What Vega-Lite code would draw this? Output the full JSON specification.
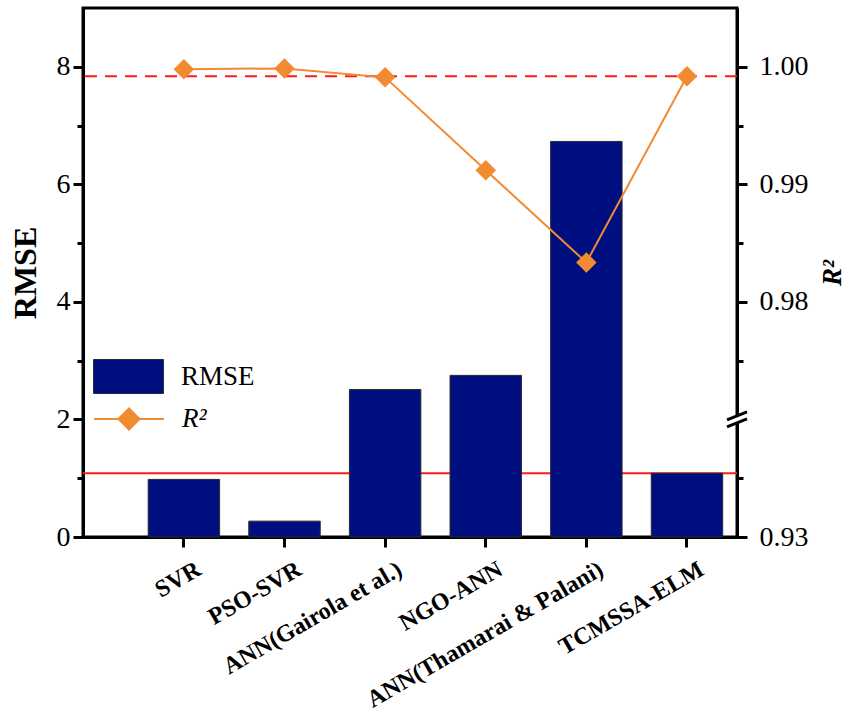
{
  "$schema": "https://vega.github.io/schema/vega-lite/v6.json",
  "width": 654,
  "height": 529,
  "autosize": {"type": "none"},
  "padding": {"left": 83, "top": 8, "right": 113, "bottom": 182},
  "config": {
    "view": {"stroke": "black", "strokeWidth": 3},
    "font": "Liberation Serif",
    "axis": {"grid": false, "domainColor": "black", "domainWidth": 3, "tickColor": "black", "tickWidth": 3, "labelColor": "black", "titleColor": "black", "labelFont": "Liberation Serif", "titleFont": "Liberation Serif"}
  },
  "data": {
    "values": [
      {"model": "SVR", "RMSE": 0.98, "R2": 0.9998},
      {"model": "PSO-SVR", "RMSE": 0.27, "R2": 0.99986},
      {"model": "ANN(Gairola et al.)", "RMSE": 2.51, "R2": 0.9991},
      {"model": "NGO-ANN", "RMSE": 2.75, "R2": 0.9912},
      {"model": "ANN(Thamarai & Palani)", "RMSE": 6.73, "R2": 0.98335},
      {"model": "TCMSSA-ELM", "RMSE": 1.085, "R2": 0.9992}
    ]
  },
  "layer": [
    {
      "layer": [
        {
          "transform": [{"filter": "datum.model === 'TCMSSA-ELM'"}],
          "mark": {"type": "rule", "color": "#ff1a1a", "strokeWidth": 2},
          "encoding": {
            "y": {
              "field": "RMSE", "type": "quantitative",
              "scale": {"domain": [0, 9], "nice": false},
              "axis": {
                "title": "RMSE", "titleFontSize": 32, "titleFontWeight": "bold", "titlePadding": 14,
                "values": [0, 1, 2, 3, 4, 5, 6, 7, 8],
                "format": "d",
                "labelExpr": "datum.value % 2 === 0 ? datum.label : ''",
                "labelFontSize": 28, "labelPadding": 3,
                "tickSize": {"condition": {"test": "datum.value % 2 === 0", "value": 10}, "value": 6}
              }
            }
          }
        },
        {
          "mark": {"type": "bar", "stroke": "#2b2b2b", "strokeWidth": 1},
          "encoding": {
            "x": {
              "field": "model", "type": "nominal", "sort": null,
              "scale": {"type": "band", "paddingInner": 0.29, "paddingOuter": 0.395, "align": 0.82},
              "axis": {"title": null, "labelAngle": -30, "labelAlign": "right", "labelBaseline": "top", "labelFontWeight": "bold", "labelFontSize": 24, "labelLimit": 0, "tickSize": 10, "labelPadding": 10, "labelOffset": 9}
            },
            "y": {
              "field": "RMSE", "type": "quantitative",
              "scale": {"domain": [0, 9], "nice": false},
              "axis": {
                "title": "RMSE", "titleFontSize": 32, "titleFontWeight": "bold", "titlePadding": 14,
                "values": [0, 1, 2, 3, 4, 5, 6, 7, 8],
                "format": "d",
                "labelExpr": "datum.value % 2 === 0 ? datum.label : ''",
                "labelFontSize": 28, "labelPadding": 3,
                "tickSize": {"condition": {"test": "datum.value % 2 === 0", "value": 10}, "value": 6}
              }
            },
            "fill": {
              "datum": "RMSE", "type": "nominal",
              "scale": {"range": ["#000f80"]},
              "legend": {"title": null, "orient": "none", "legendX": 10, "legendY": 333, "symbolType": "M-1,-0.486 H1 V0.486 H-1 Z", "symbolSize": 4900, "symbolStrokeColor": "#2b2b2b", "symbolStrokeWidth": 1, "labelFont": "Liberation Serif", "labelFontSize": 27, "labelOffset": 17, "labelColor": "black"}
            }
          }
        }
      ]
    },
    {
      "layer": [
        {
          "transform": [{"filter": "datum.model === 'TCMSSA-ELM'"}],
          "mark": {"type": "rule", "color": "#ff1a1a", "strokeWidth": 2, "strokeDash": [12, 8]},
          "encoding": {
            "y": {"field": "R2", "type": "quantitative"}
          }
        },
        {
          "mark": {"type": "line", "strokeWidth": 2},
          "encoding": {
            "x": {"field": "model", "type": "nominal", "sort": null},
            "y": {
              "field": "R2", "type": "quantitative",
              "scale": {"domain": [0.93, 0.97, 1.005], "range": [529, 411.44, 0], "nice": false, "zero": false},
              "axis": {
                "orient": "right", "title": "R²", "titleFontSize": 27, "titleFontWeight": "bold", "titleFontStyle": "italic", "titleAngle": 270, "titlePadding": 38,
                "values": [0.93, 0.95, 0.975, 0.98, 0.985, 0.99, 0.995, 1.0],
                "format": ".2f",
                "labelExpr": "(datum.value === 0.95 || datum.value === 0.975 || datum.value === 0.985 || datum.value === 0.995) ? '' : datum.label",
                "labelFontSize": 28, "labelPadding": 12,
                "tickSize": {"condition": {"test": "datum.value === 0.95 || datum.value === 0.975 || datum.value === 0.985 || datum.value === 0.995", "value": 6}, "value": 10}
              }
            },
            "stroke": {
              "datum": "R²", "type": "nominal",
              "scale": {"range": ["#f28a2f"]},
              "legend": {"title": null, "orient": "none", "legendX": 10, "legendY": 375, "symbolType": "M-1,0 H1 M-0.3,0 L0,-0.3 L0.3,0 L0,0.3 Z", "symbolSize": 4900, "symbolStrokeWidth": 2, "symbolFillColor": "#f28a2f", "labelFont": "Liberation Serif", "labelFontSize": 27, "labelFontStyle": "italic", "labelOffset": 17, "labelColor": "black"}
            }
          }
        },
        {
          "mark": {"type": "point", "shape": "diamond", "filled": true, "size": 420, "color": "#f28a2f", "opacity": 1},
          "encoding": {
            "x": {"field": "model", "type": "nominal", "sort": null},
            "y": {"field": "R2", "type": "quantitative"}
          }
        },
        {
          "transform": [{"filter": "datum.model === 'TCMSSA-ELM'"}],
          "mark": {"type": "point", "shape": "M-1,0.05 L1,-0.75 L1,-0.05 L-1,0.75 Z", "filled": true, "color": "white", "size": 400, "opacity": 1},
          "encoding": {
            "x": {"value": "width"},
            "y": {"datum": 0.97, "type": "quantitative"}
          }
        },
        {
          "transform": [{"filter": "datum.model === 'TCMSSA-ELM'"}],
          "mark": {"type": "point", "shape": "M-1,0.05 L1,-0.75 M-1,0.75 L1,-0.05", "filled": false, "color": "black", "strokeWidth": 3, "size": 400, "opacity": 1},
          "encoding": {
            "x": {"value": "width"},
            "y": {"datum": 0.97, "type": "quantitative"}
          }
        }
      ]
    }
  ],
  "resolve": {"scale": {"y": "independent"}}
}
